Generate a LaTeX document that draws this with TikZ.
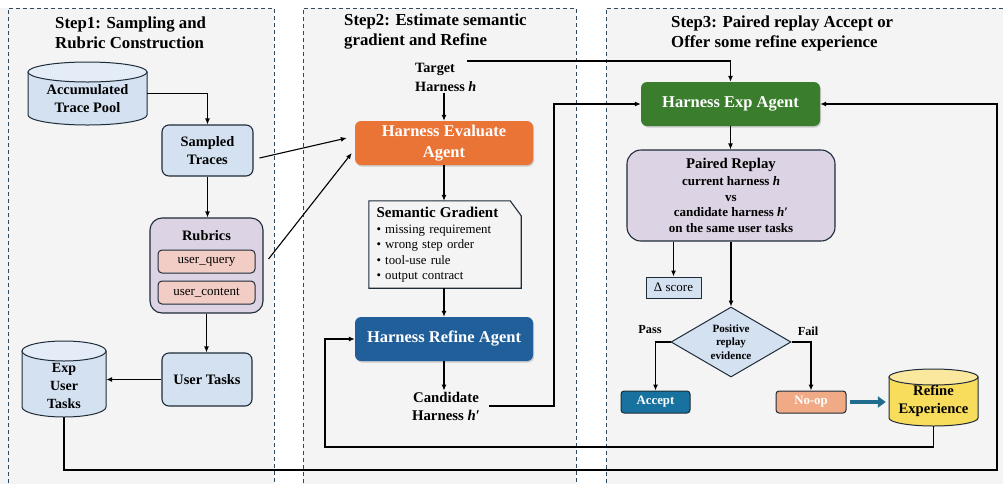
\documentclass[tikz,border=0pt]{standalone}
\usepackage{fontspec}
\setmainfont{Liberation Serif}
\usetikzlibrary{arrows.meta,shapes.geometric,shadows,calc}

\definecolor{panelbg}{HTML}{F4F4F4}
\definecolor{dashc}{HTML}{2E4A5C}
\definecolor{lblue}{HTML}{D4E1F1}
\definecolor{lbluetop}{HTML}{E4EDF7}
\definecolor{lav}{HTML}{DCD3E4}
\definecolor{pinkc}{HTML}{F1CDC5}
\definecolor{edgec}{HTML}{1E2B38}
\definecolor{orangec}{HTML}{EA7336}
\definecolor{bluec}{HTML}{215F9A}
\definecolor{greenc}{HTML}{3A7D2C}
\definecolor{acceptc}{HTML}{17729F}
\definecolor{noopc}{HTML}{F1AA86}
\definecolor{yel}{HTML}{F8DC5B}
\definecolor{yeltop}{HTML}{FAE89E}
\definecolor{thickc}{HTML}{1F6C8E}

% cx, y of top ellipse centre, y of bottom ellipse centre, half width, ry, body colour, top colour
\newcommand\mycyl[7]{%
  \path[fill=#6,draw=edgec,line width=1pt] (#1-#4,#2) -- (#1-#4,#3)
     arc[start angle=180,end angle=360,x radius=#4pt,y radius=#5pt] -- (#1+#4,#2) -- cycle;
  \path[fill=#7,draw=edgec,line width=1pt] (#1,#2) ellipse[x radius=#4pt,y radius=#5pt];
}

\begin{document}
\begin{tikzpicture}[x=1pt,y=-1pt,
  arr/.style={-{Latex[length=6pt,width=5pt]},line width=1.1pt,black},
  panel/.style={dashc,line width=0.9pt,dash pattern=on 4pt off 3pt},
  title/.style={inner sep=0pt,align=left,anchor=west,font=\fontsize{16.8}{20}\selectfont\bfseries},
  lbox/.style={rectangle,rounded corners=7pt,fill=lblue,draw=edgec,line width=1.1pt,inner sep=0pt,align=center,font=\fontsize{14.4}{18}\selectfont\bfseries},
  agent/.style={rectangle,rounded corners=6pt,inner sep=0pt,text=white,align=center,minimum width=178pt,minimum height=44pt,
     font=\fontsize{16.5}{21}\selectfont\bfseries,drop shadow={shadow xshift=1pt,shadow yshift=-1.5pt,opacity=0.35}},
  tagbox/.style={rectangle,rounded corners=4pt,fill=pinkc,draw=edgec,line width=1pt,inner sep=0pt,minimum width=97pt,minimum height=23pt,font=\fontsize{13}{15}\selectfont},
  txt/.style={inner sep=1pt,align=center,font=\fontsize{14.4}{18}\selectfont\bfseries},
  cylbox/.style={rectangle,inner sep=0pt},
  lbl/.style={inner sep=0pt,font=\fontsize{12.3}{14}\selectfont\bfseries},
  btn/.style={rectangle,rounded corners=3pt,draw=edgec,line width=1pt,inner sep=0pt,text=white,minimum width=69pt,minimum height=22pt,font=\fontsize{12.8}{14}\selectfont\bfseries}
]
\useasboundingbox (0,0) rectangle (1003,483);
\clip (0,0) rectangle (1003,483);
\fill[white] (0,0) rectangle (1003,483);

% panels
\fill[panelbg] (0,8) rectangle (274,490);
\draw[panel] (8,490) -- (8,8) -- (274,8) -- (274,490);
\fill[panelbg] (303,8) rectangle (576,490);
\draw[panel] (303,490) -- (303,8) -- (576,8) -- (576,490);
\fill[panelbg] (606,8) rectangle (1010,490);
\draw[panel] (606,490) -- (606,8) -- (1010,8);

% titles
\node[title] (t1) at (55,33) {Step1: Sampling and\\Rubric Construction};
\node[title] (t2) at (344,32) {Step2: Estimate semantic\\gradient and Refine};
\node[title] (t3) at (671,33.5) {Step3: Paired replay Accept or\\Offer some refine experience};

% ---------- Step 1
\mycyl{87.5}{72}{115}{59.5}{10}{lblue}{lbluetop}
\node[cylbox,minimum width=119pt,minimum height=63pt] (pool) at (87.5,93.5) {};
\node[txt] (pooltxt) at (87.5,99) {Accumulated\\Trace Pool};

\node[lbox,minimum width=91pt,minimum height=51pt] (sampled) at (207.5,150.5) {Sampled\\Traces};

\node[rectangle,rounded corners=12pt,fill=lav,draw=edgec,line width=1.1pt,minimum width=113pt,minimum height=95pt] (rubrics) at (206.5,265.5) {};
\node[txt] (rubricsT) at (206.5,236) {Rubrics};
\node[tagbox] (uq) at (206.5,261.5) {user\_query};
\node[tagbox] (uc) at (206.5,292.5) {user\_content};

\node[lbox,minimum width=90pt,minimum height=53pt] (usertasks) at (207,379.5) {User Tasks};

\mycyl{64}{351}{407}{42}{10}{lblue}{lbluetop}
\node[cylbox,minimum width=84pt,minimum height=76pt] (eut) at (64,379) {};
\node[txt,font=\fontsize{14}{17.7}\selectfont\bfseries] (euttxt) at (64,386) {Exp\\User\\Tasks};

% ---------- Step 2
\node[txt,align=left,anchor=west,font=\fontsize{14.2}{19}\selectfont\bfseries] (target) at (414,77.5) {Target\\Harness \textit{h}};
\node[agent,fill=orangec] (eval) at (444,143) {Harness Evaluate\\Agent};
\node[text width=137pt,align=left,inner sep=0pt,minimum width=152pt,minimum height=87pt,font=\fontsize{12.8}{15.5}\selectfont] (sg) at (445,244.5)
  {{\fontsize{15}{15.5}\selectfont\bfseries Semantic Gradient}\\[0.5pt]• missing requirement\\• wrong step order\\• tool-use rule\\• output contract};
\draw[edgec,line width=1.1pt] (sg.south west) -- (sg.north west) -- ([xshift=-11pt]sg.north east) -- ([yshift=-15pt]sg.north east) -- (sg.south east) -- cycle;
\node[agent,fill=bluec] (refine) at (444,339) {Harness Refine Agent};
\node[txt,font=\fontsize{14.8}{18}\selectfont\bfseries] (cand) at (446,406) {Candidate\\Harness \textit{h}′};

% ---------- Step 3
\node[agent,fill=greenc,minimum width=179pt] (exp) at (730.5,104) {Harness Exp Agent};
\node[rectangle,rounded corners=14pt,fill=lav,draw=edgec,line width=1.1pt,minimum width=208pt,minimum height=91pt,inner sep=0pt,align=center,
  font=\fontsize{13}{15.5}\selectfont\bfseries] (paired) at (731,195.5)
  {{\fontsize{14.8}{15.5}\selectfont Paired Replay}\\[1.5pt]current harness \textit{h}\\vs\\candidate harness \textit{h}′\\on the same user tasks};
\node[rectangle,fill=lblue,draw=edgec,line width=1pt,minimum width=55pt,minimum height=21pt,inner sep=0pt,font=\fontsize{13}{15}\selectfont] (dscore) at (673.5,287.5) {Δ score};
\node[diamond,aspect=1.7,fill=lblue,draw=edgec,line width=1pt,minimum width=120pt,minimum height=70pt,inner sep=0pt,align=center,
  font=\fontsize{11.1}{13.3}\selectfont\bfseries] (dec) at (731,342) {Positive\\replay\\evidence};
\node[lbl] (pass) at (650,330) {Pass};
\node[lbl] (fail) at (808,331) {Fail};
\node[btn,fill=acceptc] (accept) at (655.5,402) {Accept};
\node[btn,fill=noopc,minimum width=70pt] (noop) at (811,402) {No-op};

\mycyl{933.5}{377}{418}{44.5}{8}{yel}{yeltop}
\node[cylbox,minimum width=89pt,minimum height=57pt] (refexp) at (933.5,397.5) {};
\node[txt,font=\fontsize{14.6}{18}\selectfont\bfseries] (refexptxt) at (933.5,401) {Refine\\Experience};

% ---------- connectors
\draw[arr] (pool.east) -| (sampled.north);
\draw[arr] (sampled.south) -- (sampled.south |- rubrics.north);
\draw[arr] (rubrics.south) -- (rubrics.south |- usertasks.north);
\draw[arr] (usertasks.west) -- (eut.east |- usertasks.west);
\draw[arr] ([xshift=6pt,yshift=-7.5pt]sampled.east) -- ([xshift=-8pt,yshift=5pt]eval.west);
\draw[arr] ([xshift=5pt,yshift=6.5pt]rubrics.east) -- ([xshift=-3pt,yshift=-10pt]eval.west);

\coordinate (tstart) at (467,61);
\draw[arr] (tstart) -| (exp.north);
\draw[arr] (target.south -| eval.north) -- (eval.north);
\draw[arr] (eval.south) -- (eval.south |- sg.north);
\draw[arr] (sg.south -| refine.north) -- (refine.north);
\draw[arr] (refine.south) -- (refine.south |- cand.north);
\coordinate (bendc) at (554,406);
\draw[arr] ([xshift=8pt]cand.east) -- (bendc) |- (exp.west);

\draw[arr] (exp.south) -- (exp.south |- paired.north);
\draw[arr] (paired.south -| dscore.north) -- (dscore.north);
\draw[arr] (paired.south -| dec.north) -- (dec.north);
\draw[arr] (dec.west) -| (accept.north);
\draw[arr] (dec.east) -| (noop.north);
\draw[line width=3.5pt,thickc,-{Triangle[length=8pt,width=11pt]}] ([xshift=3pt]noop.east) -- ([xshift=-3pt]noop.east -| refexp.west);

\coordinate (fb) at (325,447);
\draw[arr] (refexp.south) |- (fb) |- (refine.west);
\coordinate (lp) at (997,470);
\draw[arr] (eut.south) |- (lp) |- (exp.east);
\end{tikzpicture}
\end{document}
